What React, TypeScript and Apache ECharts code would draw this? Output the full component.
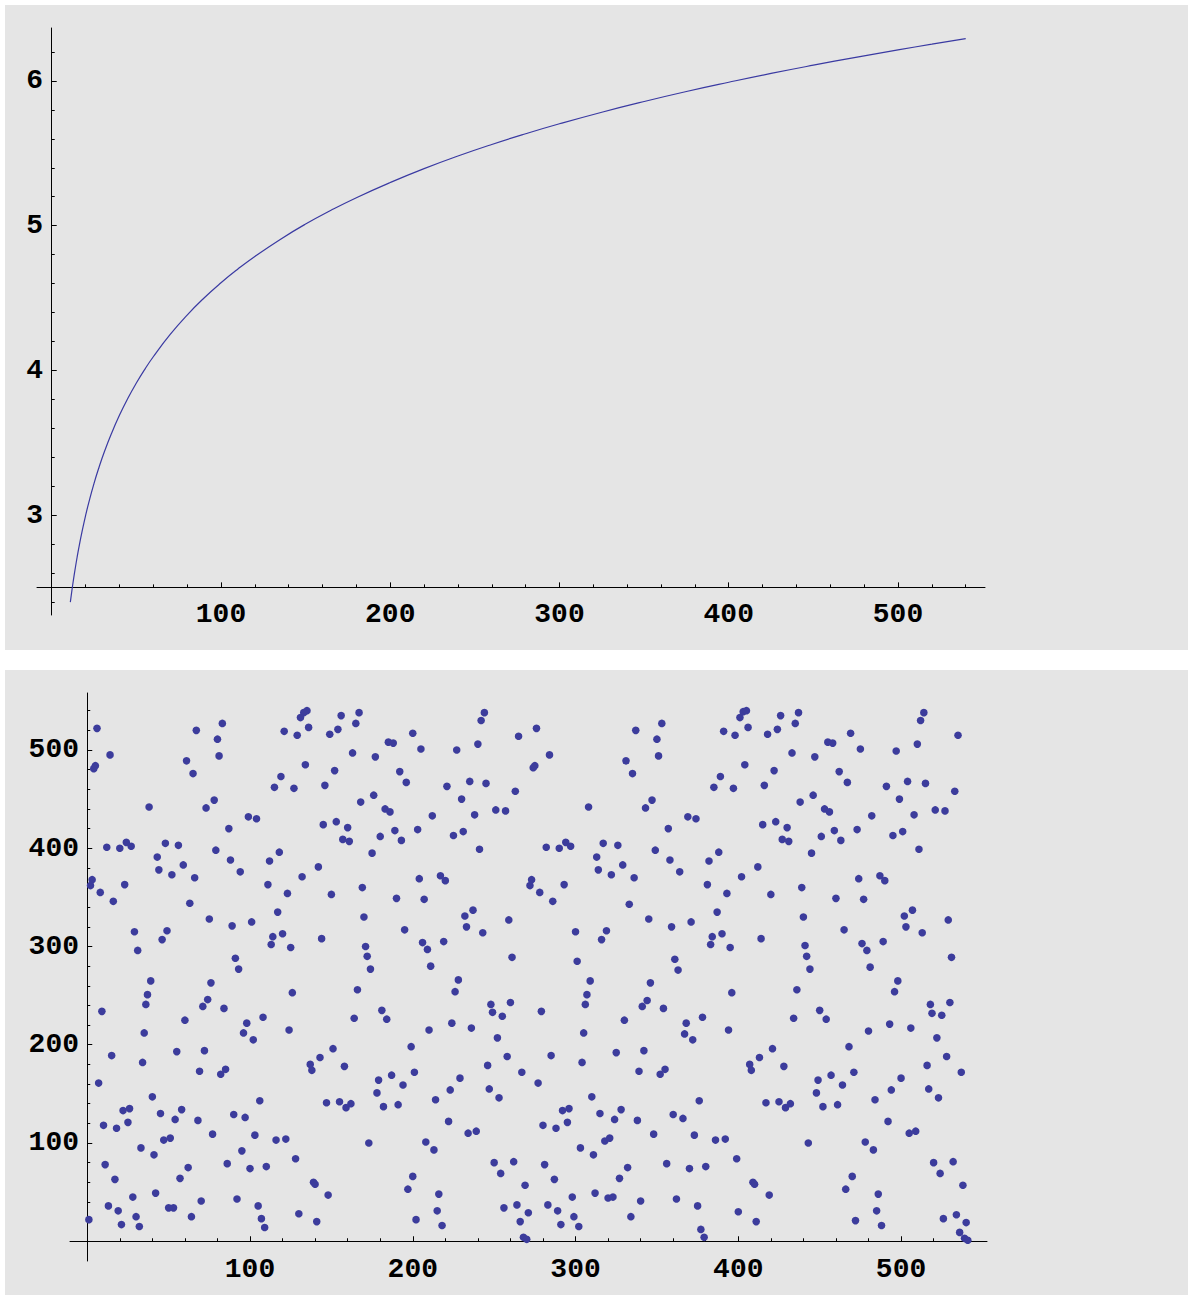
import React, { useEffect, useRef } from "react";
import * as echarts from "echarts";

// ---- top panel: smooth increasing curve ----
const curveX = [11, 12, 13, 14, 15, 16, 18, 20, 22, 25, 28, 31, 35, 40, 45, 50, 55, 60, 70, 80, 90, 100, 110, 120, 135, 150, 165, 180, 200, 220, 240, 260, 280, 300, 325, 350, 375, 400, 425, 450, 475, 500, 520, 540];
const curveY = [2.398, 2.485, 2.565, 2.639, 2.708, 2.773, 2.89, 2.996, 3.091, 3.219, 3.332, 3.434, 3.555, 3.689, 3.807, 3.912, 4.007, 4.094, 4.248, 4.382, 4.5, 4.605, 4.7, 4.787, 4.905, 5.011, 5.106, 5.193, 5.298, 5.394, 5.481, 5.561, 5.635, 5.704, 5.784, 5.858, 5.927, 5.991, 6.052, 6.109, 6.163, 6.215, 6.254, 6.292];

// ---- bottom panel: scattered points [x, y] ----
const scatterPoints: [number, number][] = [
  [6, 522], [14, 495], [4, 481], [5, 484], [38, 442], [12, 401], [20, 400], [24, 406], [27, 402], [43, 391], [44, 378], [3, 368], [2, 362], [8, 355], [23, 363], [16, 346], [29, 315], [46, 307], [31, 296], [39, 265], [37, 251], [36, 241], [9, 234], [35, 212], [15, 189], [34, 182], [7, 161], [40, 147], [22, 133], [26, 135], [25, 121], [45, 130], [10, 118], [18, 115], [33, 95], [41, 88], [11, 78], [17, 63], [28, 45], [42, 49], [1, 22], [13, 36], [19, 31], [30, 25], [21, 17], [32, 15],
  [83, 527], [67, 520], [80, 511], [81, 494], [61, 489], [65, 476], [78, 449], [73, 441], [87, 420], [48, 405], [56, 403], [59, 383], [52, 373], [66, 370], [79, 398], [88, 388], [94, 376], [63, 344], [75, 328], [89, 321], [49, 316], [91, 288], [93, 277], [76, 263], [74, 246], [71, 239], [84, 237], [60, 225], [96, 212], [55, 193], [72, 194], [69, 173], [82, 170], [85, 175], [54, 124], [58, 134], [68, 123], [90, 129], [97, 126], [77, 109], [47, 103], [51, 105], [95, 92], [86, 79], [62, 75], [57, 64], [92, 43], [70, 41], [50, 34], [53, 34], [64, 25],
  [135, 540], [133, 538], [131, 533], [121, 519], [129, 515], [136, 523], [134, 485], [119, 473], [115, 462], [127, 461], [146, 464], [99, 432], [104, 430], [145, 424], [118, 396], [112, 387], [142, 381], [132, 371], [111, 363], [123, 354], [117, 335], [101, 325], [114, 310], [120, 313], [113, 302], [125, 299], [144, 308], [126, 253], [98, 222], [108, 228], [102, 205], [124, 215], [143, 187], [137, 180], [138, 174], [106, 143], [147, 141], [103, 108], [116, 103], [122, 104], [128, 84], [100, 74], [110, 76], [139, 60], [140, 58], [105, 36], [130, 28], [141, 20], [107, 23], [109, 14],
  [156, 535], [167, 538], [165, 527], [154, 521], [149, 516], [163, 497], [177, 493], [185, 508], [188, 507], [152, 479], [192, 478], [196, 467], [168, 447], [176, 454], [183, 440], [186, 437], [153, 427], [160, 421], [157, 409], [161, 407], [180, 412], [189, 418], [193, 408], [175, 395], [150, 353], [169, 360], [190, 349], [170, 330], [195, 317], [171, 300], [172, 290], [174, 277], [166, 256], [164, 227], [181, 235], [184, 226], [151, 196], [158, 178], [179, 164], [187, 169], [194, 159], [178, 151], [155, 142], [159, 136], [162, 140], [182, 137], [191, 139], [173, 100], [148, 47], [197, 53],
  [244, 538], [242, 530], [200, 517], [205, 501], [227, 500], [240, 506], [221, 463], [235, 468], [245, 466], [230, 450], [212, 433], [203, 419], [225, 413], [231, 417], [238, 434], [241, 399], [204, 369], [217, 372], [220, 367], [207, 348], [232, 331], [237, 337], [233, 320], [243, 314], [206, 304], [209, 297], [219, 305], [211, 280], [228, 266], [226, 254], [248, 241], [249, 233], [210, 215], [224, 222], [236, 217], [199, 198], [201, 172], [246, 179], [247, 155], [229, 166], [223, 154], [214, 144], [222, 122], [234, 110], [239, 112], [208, 101], [213, 93], [200, 66], [216, 48], [202, 22], [215, 31], [218, 16],
  [265, 514], [276, 522], [274, 482], [275, 484], [284, 495], [263, 458], [251, 439], [257, 438], [282, 401], [290, 400], [294, 406], [297, 402], [273, 368], [272, 362], [278, 355], [293, 363], [286, 346], [259, 327], [261, 289], [260, 243], [255, 229], [279, 234], [252, 207], [258, 188], [285, 189], [267, 172], [277, 161], [253, 146], [292, 133], [296, 135], [295, 121], [280, 118], [288, 115], [250, 80], [262, 81], [254, 69], [281, 78], [287, 63], [269, 57], [298, 45], [256, 34], [264, 37], [271, 29], [283, 37], [289, 31], [266, 20], [268, 4], [270, 2], [291, 17],
  [337, 520], [331, 489], [335, 476], [308, 442], [343, 441], [347, 449], [317, 405], [326, 403], [313, 391], [314, 378], [322, 373], [329, 383], [336, 370], [333, 343], [345, 328], [300, 315], [316, 307], [319, 316], [301, 285], [309, 265], [307, 251], [306, 241], [346, 263], [344, 245], [341, 239], [330, 225], [305, 212], [304, 182], [325, 192], [342, 194], [339, 173], [310, 147], [315, 130], [324, 124], [328, 134], [338, 123], [348, 109], [303, 95], [311, 88], [318, 102], [321, 105], [332, 75], [327, 64], [312, 49], [320, 44], [323, 45], [340, 41], [334, 25], [299, 25], [302, 15],
  [353, 527], [350, 511], [351, 494], [391, 519], [398, 515], [389, 473], [385, 462], [397, 461], [369, 432], [374, 430], [357, 420], [349, 398], [358, 388], [364, 376], [382, 387], [388, 396], [381, 363], [393, 354], [387, 335], [359, 320], [371, 325], [384, 310], [383, 302], [390, 313], [395, 299], [361, 287], [363, 276], [396, 253], [354, 237], [368, 222], [367, 211], [372, 205], [378, 228], [394, 215], [352, 170], [355, 175], [376, 143], [360, 129], [366, 125], [373, 108], [386, 103], [392, 104], [399, 84], [356, 79], [370, 74], [380, 76], [362, 43], [375, 36], [377, 12], [379, 4],
  [401, 533], [403, 539], [405, 540], [406, 523], [426, 535], [437, 538], [435, 527], [418, 516], [424, 521], [404, 485], [422, 479], [433, 497], [447, 493], [416, 464], [438, 447], [446, 454], [415, 424], [423, 427], [430, 421], [427, 409], [431, 407], [445, 395], [412, 381], [402, 371], [420, 353], [439, 360], [440, 330], [414, 308], [441, 301], [442, 290], [444, 277], [436, 256], [434, 227], [421, 196], [413, 187], [407, 180], [408, 174], [428, 178], [449, 164], [448, 151], [417, 141], [425, 142], [429, 136], [432, 140], [443, 100], [409, 60], [410, 58], [419, 47], [400, 30], [411, 20],
  [469, 517], [455, 508], [458, 507], [475, 501], [497, 499], [462, 478], [467, 467], [491, 463], [499, 450], [453, 440], [456, 437], [482, 433], [451, 412], [459, 418], [463, 408], [473, 419], [495, 413], [474, 369], [487, 372], [490, 367], [460, 349], [477, 348], [465, 317], [476, 303], [479, 296], [481, 279], [489, 305], [498, 265], [496, 254], [450, 235], [454, 226], [480, 214], [493, 221], [468, 198], [471, 172], [457, 169], [464, 159], [452, 137], [461, 139], [484, 144], [494, 154], [500, 166], [492, 122], [478, 101], [483, 93], [470, 66], [466, 53], [486, 48], [472, 21], [485, 31], [488, 16],
  [514, 538], [512, 530], [510, 506], [535, 515], [504, 468], [515, 466], [533, 458], [508, 434], [521, 439], [527, 438], [501, 417], [511, 399], [507, 337], [502, 331], [503, 320], [513, 314], [529, 327], [531, 289], [518, 241], [519, 232], [525, 230], [530, 243], [506, 217], [522, 207], [528, 188], [516, 179], [537, 172], [517, 155], [523, 146], [505, 110], [509, 112], [520, 80], [524, 69], [532, 81], [538, 57], [526, 23], [534, 27], [540, 19], [536, 9], [539, 3], [541, 1],
];

// ---- tick labels and tick positions ----
const topXLabels = [100, 200, 300, 400, 500];
const topYLabels = [3, 4, 5, 6];
const topXMinorTicks = [20, 40, 60, 80, 100, 120, 140, 160, 180, 200, 220, 240, 260, 280, 300, 320, 340, 360, 380, 400, 420, 440, 460, 480, 500, 520, 540];
const topYMinorTicks = [2.4, 2.6, 2.8, 3.0, 3.2, 3.4, 3.6, 3.8, 4.0, 4.2, 4.4, 4.6, 4.8, 5.0, 5.2, 5.4, 5.6, 5.8, 6.0, 6.2];
const bottomLabels = [100, 200, 300, 400, 500];
const bottomMinorTicks = [20, 40, 60, 80, 100, 120, 140, 160, 180, 200, 220, 240, 260, 280, 300, 320, 340, 360, 380, 400, 420, 440, 460, 480, 500, 520, 540];

// where the top panel's horizontal axis crosses the vertical axis
const TOP_AXIS_CROSS = 2.5;
// plot ranges
const topXRange = [-8.7, 551.4];
const topYRange = [2.309, 6.366];
const bottomXRange = [-10.6, 552.8];
const bottomYRange = [-20.1, 558];

const LABEL_FONT = {
  fontFamily: "'Liberation Mono', 'DejaVu Sans Mono', monospace",
  fontWeight: "bold" as const,
  fontSize: 28,
  color: "#000",
};

function mainAxis(gridIndex: number, range: number[], labels: number[], minor: number[], shift: number, margin: number) {
  return {
    type: "value",
    gridIndex,
    min: range[0] - shift,
    max: range[1] - shift,
    axisLine: { show: true, onZero: true, lineStyle: { color: "#000", width: 1 } },
    axisTick: { show: true, inside: true, length: 3, customValues: minor.map((v) => v - shift), lineStyle: { color: "#000", width: 1 } },
    axisLabel: {
      show: true,
      customValues: labels.map((v) => v - shift),
      formatter: (v: number) => String(Math.round(v + shift)),
      margin,
      ...LABEL_FONT,
    },
    splitLine: { show: false },
  };
}

function majorAxis(gridIndex: number, range: number[], labels: number[], shift: number) {
  return {
    type: "value",
    gridIndex,
    min: range[0] - shift,
    max: range[1] - shift,
    axisLine: { show: false, onZero: true },
    axisTick: { show: true, inside: true, length: 5, customValues: labels.map((v) => v - shift), lineStyle: { color: "#000", width: 1 } },
    axisLabel: { show: false },
    splitLine: { show: false },
  };
}

export default function App() {
  const ref = useRef<HTMLDivElement>(null);
  useEffect(() => {
    if (!ref.current) return;
    const chart = echarts.init(ref.current, null, { renderer: "svg" });
    const topGrid = { left: 37, top: 28, width: 948, height: 587, outerBoundsMode: "none" };
    const bottomGrid = { left: 70, top: 693, width: 917, height: 568, outerBoundsMode: "none" };
    chart.setOption({
      animation: false,
      backgroundColor: "#ffffff",
      graphic: [
        { type: "rect", z: -100, silent: true, shape: { x: 5, y: 5, width: 1183, height: 645 }, style: { fill: "#e5e5e5" } },
        { type: "rect", z: -100, silent: true, shape: { x: 5, y: 670, width: 1183, height: 625 }, style: { fill: "#e5e5e5" } },
      ],
      grid: [topGrid, topGrid, bottomGrid, bottomGrid],
      xAxis: [
        mainAxis(0, topXRange, topXLabels, topXMinorTicks, 0, -15),
        majorAxis(1, topXRange, topXLabels, 0),
        mainAxis(2, bottomXRange, bottomLabels, bottomMinorTicks, 0, -6),
        majorAxis(3, bottomXRange, bottomLabels, 0),
      ],
      yAxis: [
        mainAxis(0, topYRange, topYLabels, topYMinorTicks, TOP_AXIS_CROSS, -6),
        majorAxis(1, topYRange, topYLabels, TOP_AXIS_CROSS),
        mainAxis(2, bottomYRange, bottomLabels, bottomMinorTicks, 0, -9),
        majorAxis(3, bottomYRange, bottomLabels, 0),
      ],
      series: [
        {
          type: "line",
          xAxisIndex: 0,
          yAxisIndex: 0,
          data: curveX.map((x, i) => [x, curveY[i] - TOP_AXIS_CROSS]),
          showSymbol: false,
          smooth: 0.5,
          clip: false,
          lineStyle: { color: "#3a3aa2", width: 1.2 },
        },
        {
          type: "scatter",
          xAxisIndex: 2,
          yAxisIndex: 2,
          data: scatterPoints,
          symbolSize: 7.6,
          itemStyle: { color: "#3c3c9c", opacity: 1 },
        },
      ],
    });
    return () => chart.dispose();
  }, []);
  return <div ref={ref} style={{ position: "absolute", left: 0, top: 0, width: 1189, height: 1297 }} />;
}
